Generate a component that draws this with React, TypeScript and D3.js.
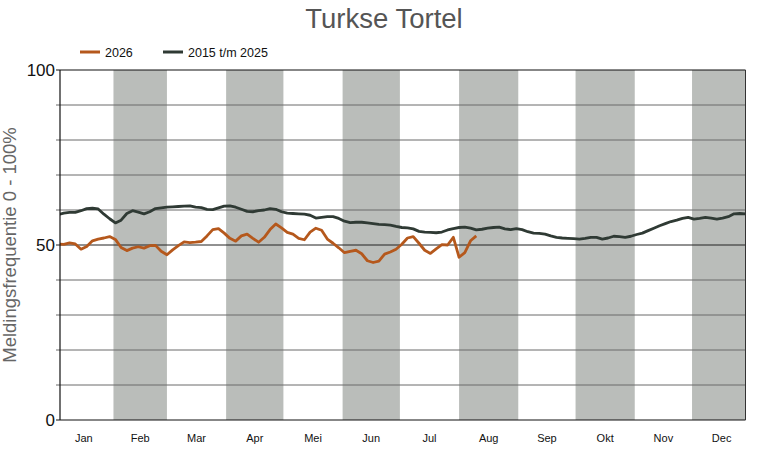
import React from 'react';
import * as d3 from 'd3';

// 3-day samples, first sample on day 2 (Jan 1 = day 0)
const dayStart = 2;
const dayStep = 3;

const months = ['Jan', 'Feb', 'Mar', 'Apr', 'Mei', 'Jun', 'Jul', 'Aug', 'Sep', 'Okt', 'Nov', 'Dec'];
const monthDays = [31, 28, 31, 30, 31, 30, 31, 31, 30, 31, 30, 31];
const yTicks = [0, 50, 100];
const gridValues = [10, 20, 30, 40, 50, 60, 70, 80, 90];

const series2026 = [
  50.3, 50.2, 50.6, 50.3, 48.8, 49.6, 51.2, 51.7, 52.0, 52.4,
  51.6, 49.3, 48.4, 49.1, 49.5, 49.1, 49.8, 49.9, 48.2, 47.2,
  48.6, 49.8, 50.9, 50.7, 50.8, 51.0, 52.6, 54.4, 54.7, 53.4,
  51.9, 51.1, 52.6, 53.1, 51.9, 50.8, 52.2, 54.4, 56.0, 54.9,
  53.6, 53.1, 51.9, 51.5, 53.7, 54.8, 54.2, 51.7, 50.5, 49.2,
  47.8, 48.2, 48.5, 47.5, 45.5, 45.0, 45.4, 47.4, 48.0, 48.8,
  50.2, 52.0, 52.4, 50.5, 48.5, 47.6, 48.9, 50.1, 50.0, 52.2,
  46.5, 47.8, 51.2, 52.6,
];

const series2015to2025 = [
  58.7, 59.1, 59.3, 59.3, 59.8, 60.4, 60.5, 60.3, 58.8, 57.5,
  56.3, 57.1, 59.0, 59.8, 59.4, 58.9, 59.5, 60.4, 60.6, 60.8,
  60.9, 61.0, 61.1, 61.2, 60.8, 60.7, 60.2, 60.1, 60.6, 61.1,
  61.2, 60.8, 60.2, 59.6, 59.5, 59.8, 60.0, 60.4, 60.2, 59.5,
  59.1, 59.0, 58.9, 58.8, 58.5, 57.7, 57.9, 58.1, 58.1, 57.6,
  56.8, 56.4, 56.5, 56.5, 56.3, 56.1, 55.9, 55.8, 55.7, 55.3,
  55.0, 54.9, 54.6, 53.9, 53.7, 53.6, 53.5, 53.7, 54.3, 54.7,
  55.0, 55.1, 54.8, 54.3, 54.5, 54.8, 55.0, 55.1, 54.6, 54.4,
  54.7, 54.4, 53.8, 53.4, 53.3, 53.1, 52.6, 52.2, 52.0, 51.9,
  51.8, 51.7, 51.9, 52.2, 52.2, 51.7, 52.0, 52.5, 52.4, 52.2,
  52.5, 53.0, 53.4, 54.1, 54.8, 55.5, 56.1, 56.7, 57.1, 57.6,
  57.9, 57.4, 57.6, 57.9, 57.7, 57.4, 57.7, 58.1, 58.9, 59.0,
  58.9,
];

const W = 765;
const H = 450;
const margin = { top: 70, right: 20, bottom: 30, left: 60 };
const plotW = 685.5;
const plotH = H - margin.top - margin.bottom;

const App: React.FC = () => {
  const x = d3.scaleLinear().domain([3, 362]).range([margin.left, margin.left + plotW]);
  const y = d3.scaleLinear().domain([0, 100]).range([margin.top + plotH, margin.top]);

  const monthStarts = d3.cumsum([0, ...monthDays]);

  const line = d3.line<number>()
    .x((_, i) => x(dayStart + i * dayStep))
    .y(d => y(d));

  const left = margin.left;
  const right = margin.left + plotW;
  const top = margin.top;
  const bottom = margin.top + plotH;

  return (
    <svg width={W} height={H} style={{ position: 'absolute', left: 0, top: 0 }}
      fontFamily="'Liberation Sans', Arial, sans-serif">
      <defs>
        <clipPath id="plot">
          <rect x={left} y={top} width={plotW} height={plotH} />
        </clipPath>
      </defs>

      {/* month bands */}
      {months.map((m, i) => i % 2 === 1 ? (
        <rect key={m} x={Math.max(left, x(monthStarts[i]))} y={top}
          width={Math.min(right, x(monthStarts[i + 1])) - Math.max(left, x(monthStarts[i]))}
          height={plotH} fill="#babdba" />
      ) : null)}

      {/* grid */}
      {gridValues.map(v => (
        <line key={v} x1={left - 4} x2={right} y1={y(v)} y2={y(v)}
          stroke={v === 50 ? '#222' : '#6a6a6a'} strokeWidth={1} />
      ))}

      {/* series */}
      <g clipPath="url(#plot)">
        <path d={line(series2015to2025) ?? ''} fill="none" stroke="#2f3a34" strokeWidth={2.8} strokeLinejoin="round" />
        <path d={line(series2026) ?? ''} fill="none" stroke="#b5581c" strokeWidth={2.8} strokeLinejoin="round" />
      </g>

      {/* frame */}
      <line x1={left - 4} x2={right} y1={top} y2={top} stroke="#111" strokeWidth={1.2} />
      <line x1={left - 4} x2={right} y1={bottom} y2={bottom} stroke="#111" strokeWidth={1.2} />
      <line x1={left} x2={left} y1={top} y2={bottom} stroke="#111" strokeWidth={1.2} />
      <line x1={right} x2={right} y1={top} y2={bottom} stroke="#333" strokeWidth={1} />

      {/* y labels */}
      {yTicks.map(v => (
        <text key={v} x={left - 5} y={y(v)} dy="0.36em" textAnchor="end" fontSize={17} fill="#111">{v}</text>
      ))}

      {/* x ticks + labels */}
      {monthStarts.slice(1, 12).map((d, i) => (
        <line key={i} x1={x(d)} x2={x(d)} y1={bottom} y2={bottom + 10} stroke="#111" strokeWidth={1} />
      ))}
      {months.map((m, i) => (
        <text key={m} x={x((monthStarts[i] + monthStarts[i + 1]) / 2)} y={bottom + 22}
          textAnchor="middle" fontSize={11} fill="#111">{m}</text>
      ))}

      {/* title */}
      <text x={384} y={27.5} textAnchor="middle" fontSize={27.5} fill="#555">Turkse Tortel</text>

      {/* legend */}
      <line x1={80} x2={100} y1={52} y2={52} stroke="#b5581c" strokeWidth={3} />
      <text x={105} y={56.5} fontSize={12.5} fill="#111">2026</text>
      <line x1={163} x2={183} y1={52} y2={52} stroke="#2f3a34" strokeWidth={3} />
      <text x={188} y={56.5} fontSize={12.5} fill="#111">2015 t/m 2025</text>

      {/* y axis title */}
      <text transform={`translate(15.5,${(top + bottom) / 2}) rotate(-90)`} textAnchor="middle"
        fontSize={18.5} fill="#666">Meldingsfrequentie 0 - 100%</text>
    </svg>
  );
};

export default App;
